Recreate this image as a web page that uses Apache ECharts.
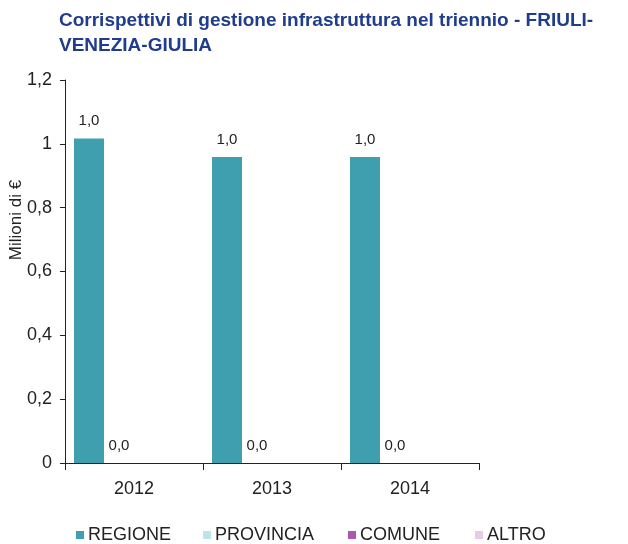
<!DOCTYPE html>
<html>
<head>
<meta charset="utf-8">
<script src="https://cdn.jsdelivr.net/npm/echarts@6/dist/echarts.min.js"></script>
<style>
  html, body { margin: 0; padding: 0; background: #fff; }
  #chart { width: 628px; height: 544px; }
</style>
</head>
<body>
<div id="chart"></div>
<script>
// chart data
const years = ['2012', '2013', '2014'];
const seriesNames = ['REGIONE', 'PROVINCIA', 'COMUNE', 'ALTRO'];
const regione = [1.017, 0.959, 0.959];
const provincia = [0, 0, 0];
const comune = [null, null, null];
const altro = [null, null, null];
const yTicks = [0, 0.2, 0.4, 0.6, 0.8, 1, 1.2];

const colors = ['#409FAF', '#BFE3E8', '#A95AAE', '#E6CCE6'];
const font = '"Liberation Sans", Arial, sans-serif';

const fmtComma = v => String(v).replace('.', ',');

const myChart = echarts.init(document.getElementById('chart'));

const labelOpt = {
  show: true,
  position: 'top',
  distance: 10,
  color: '#222',
  fontSize: 15,
  fontFamily: font,
  formatter: p => p.value.toFixed(1).replace('.', ',')
};

const allData = [regione, provincia, comune, altro];
const legendLeft = [71, 198, 343, 470];

myChart.setOption({
  animation: false,
  title: {
    text: 'Corrispettivi di gestione infrastruttura nel triennio - FRIULI-\nVENEZIA-GIULIA',
    left: 54,
    top: 3,
    textStyle: {
      color: '#1F3D8C',
      fontSize: 19,
      fontWeight: 'bold',
      fontFamily: font,
      lineHeight: 25
    }
  },
  legend: seriesNames.map((name, i) => ({
    data: [name],
    left: legendLeft[i],
    top: 521,
    itemWidth: 8,
    itemHeight: 8,
    icon: 'rect',
    itemGap: 4,
    textStyle: { color: '#222', fontSize: 18, fontFamily: font, padding: [0, 0, 0, -1] }
  })),
  grid: { left: 65, right: 149, top: 80, bottom: 81 },
  xAxis: {
    type: 'category',
    data: years,
    axisLine: { lineStyle: { color: '#222', width: 1 } },
    axisTick: { show: true, length: 7, lineStyle: { color: '#222' } },
    axisLabel: { color: '#222', fontSize: 18, fontFamily: font, margin: 17 }
  },
  yAxis: {
    type: 'value',
    min: yTicks[0],
    max: yTicks[yTicks.length - 1],
    interval: 0.2,
    splitLine: { show: false },
    axisLine: { show: true, lineStyle: { color: '#222', width: 1 } },
    axisTick: { show: true, length: 5, lineStyle: { color: '#222' } },
    axisLabel: {
      color: '#222', fontSize: 18, fontFamily: font, margin: 13,
      formatter: v => fmtComma(Math.round(v * 10) / 10)
    }
  },
  graphic: [{
    type: 'text',
    x: 16,
    y: 220,
    rotation: Math.PI / 2,
    style: {
      text: 'Milioni di €',
      fill: '#222',
      font: '17px ' + font,
      align: 'center',
      verticalAlign: 'middle'
    }
  }],
  series: seriesNames.map((name, i) => ({
    name: name,
    type: 'bar',
    data: allData[i],
    barWidth: 30,
    barGap: '0%',
    itemStyle: { color: colors[i] },
    label: i < 2 ? labelOpt : { show: false }
  }))
});
</script>
</body>
</html>
